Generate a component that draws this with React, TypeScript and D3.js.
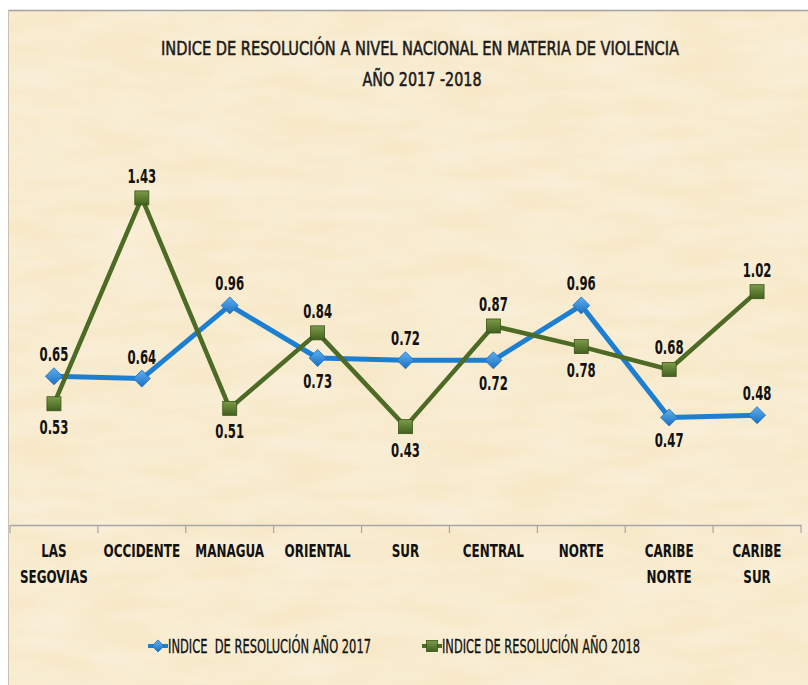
import React, { useEffect, useRef } from 'react'
import * as d3 from 'd3'

const categories: string[][] = [
  ['LAS', 'SEGOVIAS'],
  ['OCCIDENTE'],
  ['MANAGUA'],
  ['ORIENTAL'],
  ['SUR'],
  ['CENTRAL'],
  ['NORTE'],
  ['CARIBE', 'NORTE'],
  ['CARIBE', 'SUR'],
]
const values2017 = [0.65, 0.64, 0.96, 0.73, 0.72, 0.72, 0.96, 0.47, 0.48]
const values2018 = [0.53, 1.43, 0.51, 0.84, 0.43, 0.87, 0.78, 0.68, 1.02]
const series2017Name = 'INDICE  DE RESOLUCIÓN AÑO 2017'
const series2018Name = 'INDICE DE RESOLUCIÓN AÑO 2018'
const titleLines = ['INDICE DE RESOLUCIÓN A NIVEL NACIONAL EN MATERIA DE VIOLENCIA', 'AÑO 2017 -2018']

// where each data label sits relative to its point
const labelPos2017 = ['up', 'up', 'up', 'down', 'up', 'down', 'up', 'down', 'up']
const labelPos2018 = ['down', 'up', 'down', 'up', 'down', 'up', 'down', 'up', 'up']

const W = 808
const H = 685
const FONT = "'DejaVu Sans Condensed', 'DejaVu Sans', sans-serif"
const BLUE = '#1d7fd1'
const GREEN = '#4d6b25'

type Sel = d3.Selection<any, any, any, any>

// squeezed text, the original uses a narrow face
const narrow = (g: Sel, px: number, py: number, sx: number, s: string) =>
  g.append('text').attr('transform', `translate(${px},${py}) scale(${sx},1)`).attr('x', 0).attr('y', 0).text(s)

export default function App() {
  const svgRef = useRef<SVGSVGElement>(null)

  useEffect(() => {
    const svg = d3.select(svgRef.current)
    svg.selectAll('*').remove()

    const defs = svg.append('defs')
    const f = defs.append('filter').attr('id', 'paper').attr('x', 0).attr('y', 0).attr('width', 1).attr('height', 1)
    f.append('feTurbulence').attr('type', 'fractalNoise').attr('baseFrequency', '0.012 0.05').attr('numOctaves', 3).attr('seed', 4).attr('result', 'noise')
    f.append('feColorMatrix').attr('in', 'noise').attr('type', 'matrix')
      .attr('values', '0 0 0 0 1  0 0 0 0 1  0 0 0 0 1  0 0 0 0.45 -0.1')
      .attr('result', 'spots')
    f.append('feComposite').attr('in', 'spots').attr('in2', 'SourceGraphic').attr('operator', 'atop')

    const gGreen = defs.append('linearGradient').attr('id', 'gsq').attr('x1', 0).attr('y1', 0).attr('x2', 0).attr('y2', 1)
    gGreen.append('stop').attr('offset', '0%').attr('stop-color', '#7d9b4a')
    gGreen.append('stop').attr('offset', '100%').attr('stop-color', '#41601d')
    const gBlue = defs.append('linearGradient').attr('id', 'gdi').attr('x1', 0).attr('y1', 0).attr('x2', 0).attr('y2', 1)
    gBlue.append('stop').attr('offset', '0%').attr('stop-color', '#5fb0f0')
    gBlue.append('stop').attr('offset', '100%').attr('stop-color', '#1a6fc0')

    // background
    svg.append('rect').attr('x', 0).attr('y', 0).attr('width', W).attr('height', H).attr('fill', '#ffffff')
    svg.append('rect').attr('x', 8).attr('y', 10).attr('width', W - 8).attr('height', H - 10)
      .attr('fill', '#f7e8c7').attr('filter', 'url(#paper)')
    svg.append('line').attr('x1', 8).attr('x2', W).attr('y1', 10.5).attr('y2', 10.5).attr('stroke', '#a3a3a3').attr('stroke-width', 1.5)
    svg.append('line').attr('x1', 8.5).attr('x2', 8.5).attr('y1', 10).attr('y2', H).attr('stroke', '#c9c2b2').attr('stroke-width', 1)

    // title
    const title = svg.append('g').attr('font-family', FONT).attr('fill', '#1a1a1a').attr('font-size', 19).attr('text-anchor', 'middle')
      .attr('stroke', '#1a1a1a').attr('stroke-width', 0.5)
    title.append('text').attr('x', 420).attr('y', 55).attr('textLength', 518).attr('lengthAdjust', 'spacingAndGlyphs').text(titleLines[0])
    narrow(title, 422, 86, 0.84, titleLines[1])

    const x = d3.scaleBand<number>().domain(d3.range(categories.length)).range([10, 801]).padding(0)
    const y = d3.scaleLinear().domain([0, 1.6]).range([525, 159])
    const cx = (i: number) => (x(i) as number) + x.bandwidth() / 2

    // axis
    const axis = svg.append('g').attr('transform', `translate(0,${y(0)})`)
      .call(d3.axisBottom(x).tickSize(0).tickFormat(() => ''))
    axis.select('.domain').attr('stroke', '#a6a6a6').attr('stroke-width', 1.5)
    const bounds = [...x.domain().map((d) => x(d) as number), 801]
    axis.selectAll('line.sep').data(bounds).join('line').attr('class', 'sep')
      .attr('x1', (d) => d).attr('x2', (d) => d).attr('y1', 0).attr('y2', 8)
      .attr('stroke', '#a6a6a6').attr('stroke-width', 1.2)

    const catText = svg.append('g').attr('font-family', FONT).attr('font-weight', 'bold').attr('font-size', 17.5)
      .attr('fill', '#111').attr('text-anchor', 'middle')
    categories.forEach((lines, i) => {
      lines.forEach((l, k) => narrow(catText, cx(i), 557 + k * 26, 0.76, l))
    })

    const line = d3.line<number>().x((_, i) => cx(i)).y((d) => y(d))

    const drawSeries = (vals: number[], color: string, width: number) => {
      svg.append('path').datum(vals).attr('d', line).attr('fill', 'none')
        .attr('stroke', color).attr('stroke-width', width).attr('stroke-linejoin', 'round')
    }
    drawSeries(values2017, BLUE, 5)
    drawSeries(values2018, GREEN, 4.5)

    const diamond = (g: Sel, px: number, py: number, r: number) =>
      g.append('path').attr('d', `M${px},${py - r}L${px + r},${py}L${px},${py + r}L${px - r},${py}Z`)
        .attr('fill', 'url(#gdi)').attr('stroke', '#1a6cc0').attr('stroke-width', 0.8)
    const square = (g: Sel, px: number, py: number, s: number) =>
      g.append('rect').attr('x', px - s / 2).attr('y', py - s / 2).attr('width', s).attr('height', s)
        .attr('fill', 'url(#gsq)').attr('stroke', '#3a5418').attr('stroke-width', 0.8)

    const marks = svg.append('g')
    values2017.forEach((v, i) => diamond(marks, cx(i), y(v), 8.5))
    values2018.forEach((v, i) => square(marks, cx(i), y(v), 14))

    const labels = svg.append('g').attr('font-family', FONT).attr('font-weight', 'bold').attr('font-size', 20)
      .attr('fill', '#111').attr('text-anchor', 'middle')
    const addLabels = (vals: number[], pos: string[]) => {
      vals.forEach((v, i) => {
        narrow(labels, cx(i), y(v) + (pos[i] === 'up' ? -15 : 30), 0.65, v.toFixed(2))
      })
    }
    addLabels(values2017, labelPos2017)
    addLabels(values2018, labelPos2018)

    // legend
    const lg = svg.append('g').attr('font-family', FONT).attr('font-size', 19).attr('fill', '#111')
      .attr('stroke', '#111').attr('stroke-width', 0.3)
    const ly = 646
    lg.append('line').attr('x1', 148).attr('x2', 168).attr('y1', ly).attr('y2', ly).attr('stroke', BLUE).attr('stroke-width', 4)
    diamond(lg, 158, ly, 6)
    lg.append('text').attr('x', 168).attr('y', ly + 7).attr('textLength', 203).attr('lengthAdjust', 'spacingAndGlyphs')
      .attr('xml:space', 'preserve').style('white-space', 'pre').text(series2017Name)
    lg.append('line').attr('x1', 422).attr('x2', 442).attr('y1', ly).attr('y2', ly).attr('stroke', GREEN).attr('stroke-width', 4)
    square(lg, 432, ly, 11)
    lg.append('text').attr('x', 442).attr('y', ly + 7).attr('textLength', 198).attr('lengthAdjust', 'spacingAndGlyphs')
      .text(series2018Name)
  }, [])

  return (
    <div style={{ position: 'absolute', left: 0, top: 0 }}>
      <svg ref={svgRef} width={W} height={H} style={{ display: 'block' }} />
    </div>
  )
}
